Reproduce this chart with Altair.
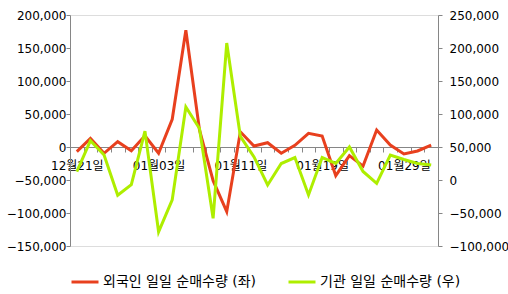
import altair as alt
import pandas as pd

dates = ["12월21일", "12월22일", "12월26일", "12월27일", "12월28일", "01월02일", "01월03일",
         "01월04일", "01월05일", "01월08일", "01월09일", "01월10일", "01월11일", "01월12일",
         "01월15일", "01월16일", "01월17일", "01월18일", "01월19일", "01월22일", "01월23일",
         "01월24일", "01월25일", "01월26일", "01월29일", "01월30일", "01월31일"]
shown_labels = ["12월21일", "01월03일", "01월11일", "01월19일", "01월29일"]

foreign = [-7000, 13000, -9500, 8000, -5600, 17000, -9500, 42000, 177000, 26000, -51000,
           -98000, 23000, 1500, 6500, -9500, 2500, 20700, 16700, -43500, -13000, -29000,
           25700, 3000, -10600, -6000, 3000]
institution = [12600, 59500, 37900, -23000, -7000, 74000, -78500, -30000, 110500, 78000,
               -58000, 207500, 66000, 35000, -7600, 25000, 34000, -22700, 34000, 25000,
               50000, 13000, -5000, 37900, 31000, 25000, 22700]

series_names = ["외국인 일일 순매수량 (좌)", "기관 일일 순매수량 (우)"]
series_colors = ["#E8401E", "#AEEE00"]
left_ticks = [-150000, -100000, -50000, 0, 50000, 100000, 150000, 200000]
right_ticks = [-100000, -50000, 0, 50000, 100000, 150000, 200000, 250000]

df = pd.DataFrame({"date": dates, "foreign": foreign, "institution": institution})

FONT = "DejaVu Sans, Noto Sans CJK KR"
GRAY = "#868686"

label_expr = "indexof([" + ",".join("'" + s + "'" for s in shown_labels) + "], datum.value) >= 0 ? datum.value : ''"

color = alt.Color(
    "series:N",
    scale=alt.Scale(domain=series_names, range=series_colors),
    legend=alt.Legend(
        title=None, orient="none", direction="horizontal", legendX=0, legendY=252,
        symbolType="stroke", symbolSize=729, symbolStrokeWidth=3, labelFontSize=14,
        labelFont=FONT, labelColor="#000000", labelOffset=3, columnPadding=25,
        padding=0,
    ),
)

x_axis = alt.Axis(
    title=None, offset=-99, tickBand="extent", labelAngle=0, labelExpr=label_expr,
    domainColor=GRAY, tickColor=GRAY, tickSize=5, labelFont=FONT, labelFontSize=12,
    labelColor="#000000", labelPadding=8, labelOverlap=False, grid=False,
)
x = alt.X(
    "date:N", sort=dates, bandPosition=0.5,
    scale=alt.Scale(type="band", paddingInner=0, paddingOuter=0),
    axis=x_axis,
)

left = alt.Chart(df).transform_calculate(series="'" + series_names[0] + "'").mark_line(
    strokeWidth=3, strokeJoin="miter"
).encode(
    x=x,
    y=alt.Y(
        "foreign:Q",
        scale=alt.Scale(domain=[-150000, 200000], nice=False, zero=False),
        axis=alt.Axis(
            title=None, orient="left", values=left_ticks, grid=False,
            domainColor=GRAY, tickColor=GRAY, tickSize=4, labelPadding=0,
            labelFont=FONT, labelFontSize=12, labelColor="#000000",
            labelExpr="datum.value == 0 ? '0\u2007' : format(datum.value, ',')",
        ),
    ),
    color=color,
)

right = alt.Chart(df).transform_calculate(series="'" + series_names[1] + "'").mark_line(
    strokeWidth=3, strokeJoin="miter"
).encode(
    x=x,
    y=alt.Y(
        "institution:Q",
        scale=alt.Scale(domain=[-100000, 250000], nice=False, zero=False),
        axis=alt.Axis(
            title=None, orient="right", values=right_ticks, grid=False,
            domainColor=GRAY, tickColor=GRAY, tickSize=4, labelPadding=7,
            labelFont=FONT, labelFontSize=12, labelColor="#000000",
            labelExpr="format(datum.value, ',')",
        ),
    ),
    color=color,
)

chart = alt.layer(left, right).resolve_scale(y="independent").properties(
    width=368, height=231,
    padding={"left": 70, "top": 15, "right": 70, "bottom": 48},
    autosize=alt.AutoSizeParams(type="none"),
).configure_view(stroke=None).configure(background="white")

chart.save("out.html", embed_options={"renderer": "svg", "actions": False})
